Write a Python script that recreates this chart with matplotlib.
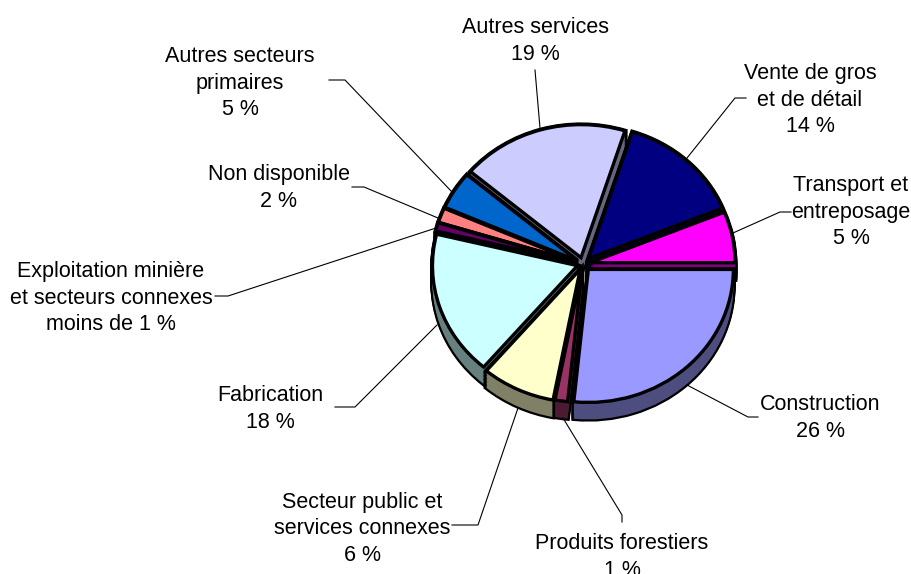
import matplotlib
matplotlib.use("Agg")
import matplotlib.pyplot as plt
from matplotlib.colors import to_rgb

plt.rcParams["font.family"] = ["Liberation Sans", "DejaVu Sans"]

W, H = 911, 574

# slices counterclockwise, starting at 3 o'clock
names = ["Transport et\nentreposage\n5 %", "Vente de gros\net de détail\n14 %",
         "Autres services\n19 %", "Autres secteurs\nprimaires\n5 %",
         "Non disponible\n2 %", "Exploitation minière\net secteurs connexes\nmoins de 1 %",
         "Fabrication\n18 %", "Secteur public et\nservices connexes\n6 %",
         "Produits forestiers\n1 %", "Construction\n26 %"]
values = [6.2, 13.9, 18.7, 4.6, 1.8, 1.0, 17.6, 8.2, 1.4, 26.6]
colors = ["#FF00FF", "#000080", "#CCCCFF", "#0066CC", "#FF8080",
          "#660066", "#CCFFFF", "#FFFFCC", "#993366", "#9999FF"]

label_x = [851, 810, 535, 240, 279, 111, 270, 362, 622, 820]
label_y = [212, 100, 41, 83, 188, 298, 409, 529, 557, 418]

# leader lines, label end first
leaders = [[(791, 212), (780, 212), (733, 233)],
           [(746, 98), (735, 98), (687, 158)],
           [(535, 70), (540, 128)],
           [(329, 80), (345, 80), (452, 192)],
           [(352, 187), (364, 187), (438, 218)],
           [(215, 296), (228, 296), (436, 228)],
           [(335, 407), (355, 407), (437, 325)],
           [(452, 525), (478, 525), (518, 408)],
           [(622, 522), (622, 515), (563, 418)],
           [(758, 417), (748, 417), (687, 385)]]

# back slices are drawn first
draw_order = [2, 1, 3, 4, 5, 0, 6, 7, 8, 9]

cx, cy = 583, 264
rx, ry = 145, 133
depth = 17 / ry
steps = 12
explode = [0.05, 0.055, 0.05, 0.045, 0.045, 0.045, 0.04, 0.045, 0.04, 0.055]

fig = plt.figure(figsize=(W / 100, H / 100), dpi=100)
ax = fig.add_axes([0, 0, 1, 1])


def layer(center, edge, lw, fill, z):
    wedges, _ = ax.pie(values, explode=explode, colors=fill, center=center,
                       startangle=0, counterclock=True, normalize=True,
                       wedgeprops=dict(edgecolor=edge, linewidth=lw))
    for i, w in enumerate(wedges):
        w.set_zorder(draw_order.index(i) * 3 + z)


dark = [tuple(c * 0.5 for c in to_rgb(col)) for col in colors]
for k in range(steps + 1):
    layer((0, -depth * k / steps), "black", 3.2, ["black"] * len(values), 1)
    layer((0, -depth * k / steps), "none", 0, dark, 2)
layer((0, 0), "black", 2.4, colors, 3)

ax.set_aspect("auto")
ax.set_xlim(-cx / rx, (W - cx) / rx)
ax.set_ylim(-(H - cy) / ry, cy / ry)
ax.axis("off")

for pts in leaders:
    xs = [p[0] / W for p in pts]
    ys = [1 - p[1] / H for p in pts]
    fig.add_artist(plt.Line2D(xs, ys, color="black", lw=0.8))

for name, x, y in zip(names, label_x, label_y):
    fig.text(x / W, 1 - y / H, name, ha="center", va="center", fontsize=15.5,
             linespacing=1.33, color="black")

fig.savefig("out.png", dpi=100)
